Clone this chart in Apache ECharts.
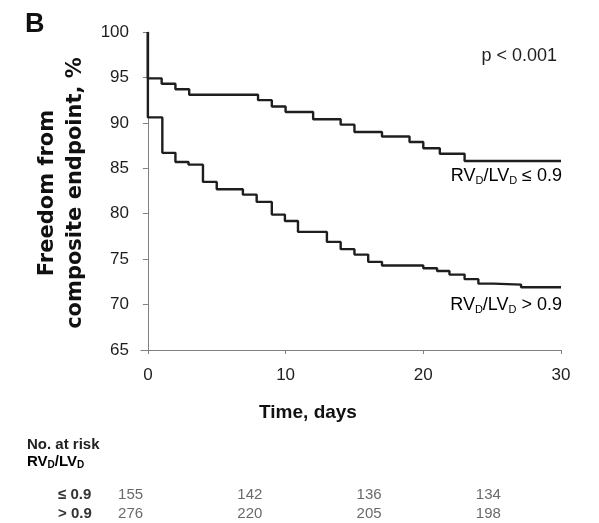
<!DOCTYPE html>
<html>
<head>
<meta charset="utf-8">
<script src="https://cdn.jsdelivr.net/npm/echarts@6/dist/echarts.min.js"></script>
<style>
  html, body { margin: 0; padding: 0; background: #fff; }
  #chart { width: 599px; height: 523px; }
</style>
</head>
<body>
<div id="chart"></div>
<script>
// Kaplan-Meier steps (day, % free of endpoint)
var timeLow = [0, 0, 1, 2, 3, 8, 9, 10, 12, 14, 15, 17, 19, 20, 21.2, 23, 30];
var survLow = [100, 94.9, 94.3, 93.7, 93.1, 92.5, 91.8, 91.2, 90.4, 89.8, 89.0, 88.5, 87.9, 87.2, 86.6, 85.8, 85.8];

var timeHigh = [0, 0, 1.05, 2, 2.95, 4, 5, 6.9, 7.9, 9, 9.95, 10.9, 13, 14, 15, 16, 17, 20, 21, 21.9, 23, 24, 25.1, 27.1, 30];
var survHigh = [100, 90.6, 86.7, 85.7, 85.4, 83.5, 82.7, 82.1, 81.3, 79.9, 79.2, 78.0, 76.9, 76.1, 75.5, 74.7, 74.3, 74.0, 73.7, 73.3, 72.8, 72.3, 72.2, 71.9, 71.9];

var xTicks = [0, 10, 20, 30];

// number at risk table
var riskCols = ['0', '10', '20', '30'];
var riskRows = ['\u2264 0.9', '> 0.9'];
var riskLow = [155, 142, 136, 134];
var riskHigh = [276, 220, 205, 198];

var FONT = '"Liberation Sans", Arial, sans-serif';
var INK = '#1e1e1e';

function pairs(xs, ys) {
    return xs.map(function (x, i) { return [x, ys[i]]; });
}

var riskData = [];
riskLow.forEach(function (v, i) { riskData.push([i, 0, v]); });
riskHigh.forEach(function (v, i) { riskData.push([i, 1, v]); });

var subRich = {
    m: { fontFamily: FONT, fontSize: 18, color: INK, lineHeight: 20 },
    s: { fontFamily: FONT, fontSize: 11, color: INK, lineHeight: 7, verticalAlign: 'bottom' }
};

var chart = echarts.init(document.getElementById('chart'));
chart.setOption({
    animation: false,
    backgroundColor: '#fff',
    textStyle: { fontFamily: FONT },
    grid: [
        { left: 141, right: 38, top: 32, bottom: 173 },
        { left: 71, width: 477, top: 485, height: 40 }
    ],
    xAxis: [
        {
            gridIndex: 0,
            type: 'value',
            min: -0.5,
            max: 30,
            axisLine: { show: true, lineStyle: { color: '#808080', width: 1 } },
            axisTick: { show: true, length: 4, customValues: xTicks, lineStyle: { color: '#808080' } },
            axisLabel: { customValues: xTicks, fontSize: 17, color: INK, margin: 17, fontFamily: FONT },
            splitLine: { show: false }
        },
        {
            gridIndex: 1,
            type: 'category',
            data: riskCols,
            show: false
        }
    ],
    yAxis: [
        {
            gridIndex: 0,
            type: 'value',
            min: 65,
            max: 100,
            interval: 5,
            axisLine: { show: true, lineStyle: { color: '#808080', width: 1 } },
            axisTick: { show: true, length: 5, lineStyle: { color: '#808080' } },
            axisLabel: { fontSize: 17, color: INK, margin: 12, fontFamily: FONT },
            splitLine: { show: false }
        },
        {
            gridIndex: 1,
            type: 'category',
            data: riskRows,
            inverse: true,
            axisLine: { show: false },
            axisTick: { show: false },
            axisLabel: { interval: 0, align: 'left', margin: 13, fontSize: 15, fontWeight: 'bold', color: '#333', fontFamily: FONT }
        }
    ],
    series: [
        {
            name: 'RVD/LVD <= 0.9',
            type: 'line',
            step: 'end',
            showSymbol: false,
            data: pairs(timeLow, survLow),
            lineStyle: { color: INK, width: 2.4 },
            itemStyle: { color: INK }
        },
        {
            name: 'RVD/LVD > 0.9',
            type: 'line',
            step: 'end',
            showSymbol: false,
            data: pairs(timeHigh, survHigh),
            lineStyle: { color: INK, width: 2.4 },
            itemStyle: { color: INK }
        },
        {
            name: 'No. at risk',
            type: 'scatter',
            xAxisIndex: 1,
            yAxisIndex: 1,
            symbolSize: 1,
            itemStyle: { color: 'rgba(0,0,0,0)' },
            data: riskData,
            label: {
                show: true,
                position: 'inside',
                formatter: function (p) { return p.value[2]; },
                fontSize: 15,
                color: '#444',
                fontFamily: FONT
            }
        }
    ],
    graphic: [
        {
            type: 'text', left: 25, top: 11,
            style: { text: 'B', font: 'bold 27px ' + FONT, fill: '#111' }
        },
        {
            type: 'text', x: 557, y: 56,
            style: { text: 'p < 0.001', font: '18px ' + FONT, fill: INK, align: 'right', verticalAlign: 'middle' }
        },
        {
            type: 'text', x: 562, y: 176,
            style: { text: '{m|RV}{s|D}{m|/LV}{s|D}{m| \u2264 0.9}', rich: subRich, align: 'right', verticalAlign: 'middle' }
        },
        {
            type: 'text', x: 562, y: 305,
            style: { text: '{m|RV}{s|D}{m|/LV}{s|D}{m| > 0.9}', rich: subRich, align: 'right', verticalAlign: 'middle' }
        },
        {
            type: 'text', x: 62, y: 193, rotation: Math.PI / 2,
            style: {
                text: 'Freedom from\ncomposite endpoint, %',
                font: 'bold 21px "DejaVu Sans", sans-serif',
                lineHeight: 28,
                fill: '#111',
                align: 'center',
                verticalAlign: 'middle'
            }
        },
        {
            type: 'text', x: 308, y: 413,
            style: { text: 'Time, days', font: 'bold 19px ' + FONT, fill: '#111', align: 'center', verticalAlign: 'middle' }
        },
        {
            type: 'text', x: 27, y: 445,
            style: { text: 'No. at risk', font: 'bold 15px ' + FONT, fill: '#222', verticalAlign: 'middle' }
        },
        {
            type: 'text', x: 27, y: 462,
            style: {
                text: '{m|RV}{s|D}{m|/LV}{s|D}',
                rich: {
                    m: { fontFamily: FONT, fontSize: 15, fontWeight: 'bold', color: '#222', lineHeight: 16 },
                    s: { fontFamily: FONT, fontSize: 10, fontWeight: 'bold', color: '#222', lineHeight: 6, verticalAlign: 'bottom' }
                },
                verticalAlign: 'middle'
            }
        }
    ]
});
</script>
</body>
</html>
